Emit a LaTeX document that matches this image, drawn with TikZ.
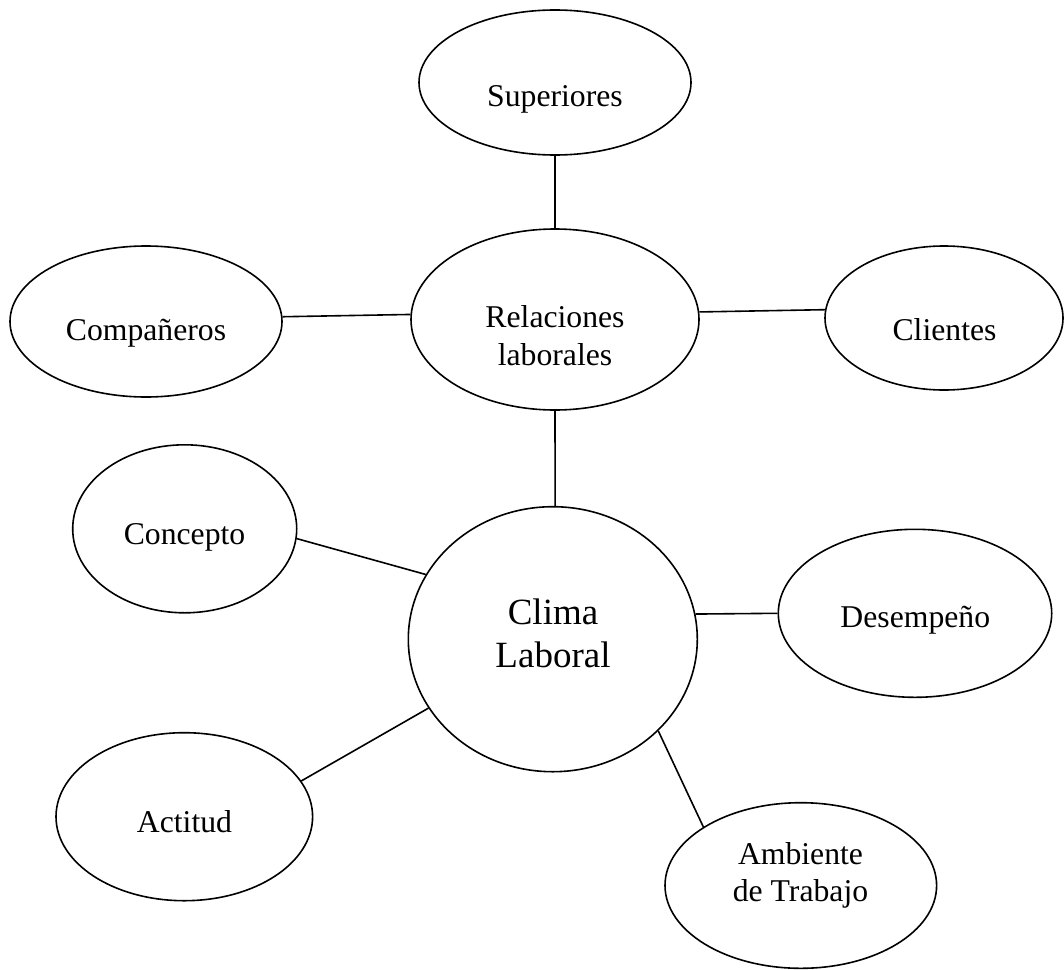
\documentclass[tikz,border=0pt]{standalone}
\usepackage{fontspec}
\setmainfont{Liberation Serif}
\usetikzlibrary{shapes.geometric}
\begin{document}
\begin{tikzpicture}[x=0.5pt,y=-0.5pt,
  bubble/.style 2 args={draw, ellipse, line width=0.8pt, inner sep=0pt,
    minimum width=#1pt, minimum height=#2pt},
  lbl/.style={anchor=base, align=center, inner sep=0pt,
    font=\fontsize{15.85}{18.6}\selectfont},
  biglbl/.style={lbl, font=\fontsize{18.5}{21.5}\selectfont},
  link/.style={line width=0.8pt}]
\useasboundingbox (0,0) rectangle (1064,969);

% bubbles
\node[bubble={136}{72.5}]   (sup)   at (555,82.5)  {};
\node[bubble={144}{90.5}]   (rel)   at (555,319.5) {};
\node[bubble={136}{75.5}]   (com)   at (146,321.5) {};
\node[bubble={119}{72}]     (cli)   at (944,318)   {};
\node[bubble={112}{84}]     (con)   at (184.7,528.8) {};
\node[bubble={144.5}{132.5}] (clima) at (552.8,639.2) {};
\node[bubble={136.7}{84}]   (des)   at (915,613.3) {};
\node[bubble={128.3}{84}]   (act)   at (184.3,816.7) {};
\node[bubble={135.8}{82.8}] (amb)   at (800.8,885.5) {};

% labels (multi-line labels sit on the baseline of their last line)
\node[lbl] (suptx) at (555,106) {Superiores};
\node[lbl] (reltx) at (555,365) {Relaciones\\laborales};
\node[lbl] (comtx) at (146,340.5) {Compañeros};
\node[lbl] (clitx) at (944.5,340) {Clientes};
\node[lbl] (contx) at (184.5,544) {Concepto};
\node[biglbl] (climatx) at (553,667) {Clima\\Laboral};
\node[lbl] (destx) at (915.3,627) {Desempeño};
\node[lbl] (acttx) at (184.5,832.5) {Actitud};
\node[lbl] (ambtx) at (800.5,901.7) {Ambiente\\de Trabajo};

% connectors
\draw[link] (sup.south) -- (rel.north);
\draw[link] (com.2) -- (rel.178.6);
\draw[link] (rel.3.8) -- (cli.176.6);
\draw[link] (rel.south) -- (clima.89.05);
\draw[link] (con.-5.6) -- (clima.153.6);
\draw[link] (clima.10.8) -- (des.west);
\draw[link] (act.17.5) -- (clima.209.5);
\draw[link] (clima.-41.5) -- (amb.149.4);
\end{tikzpicture}
\end{document}
